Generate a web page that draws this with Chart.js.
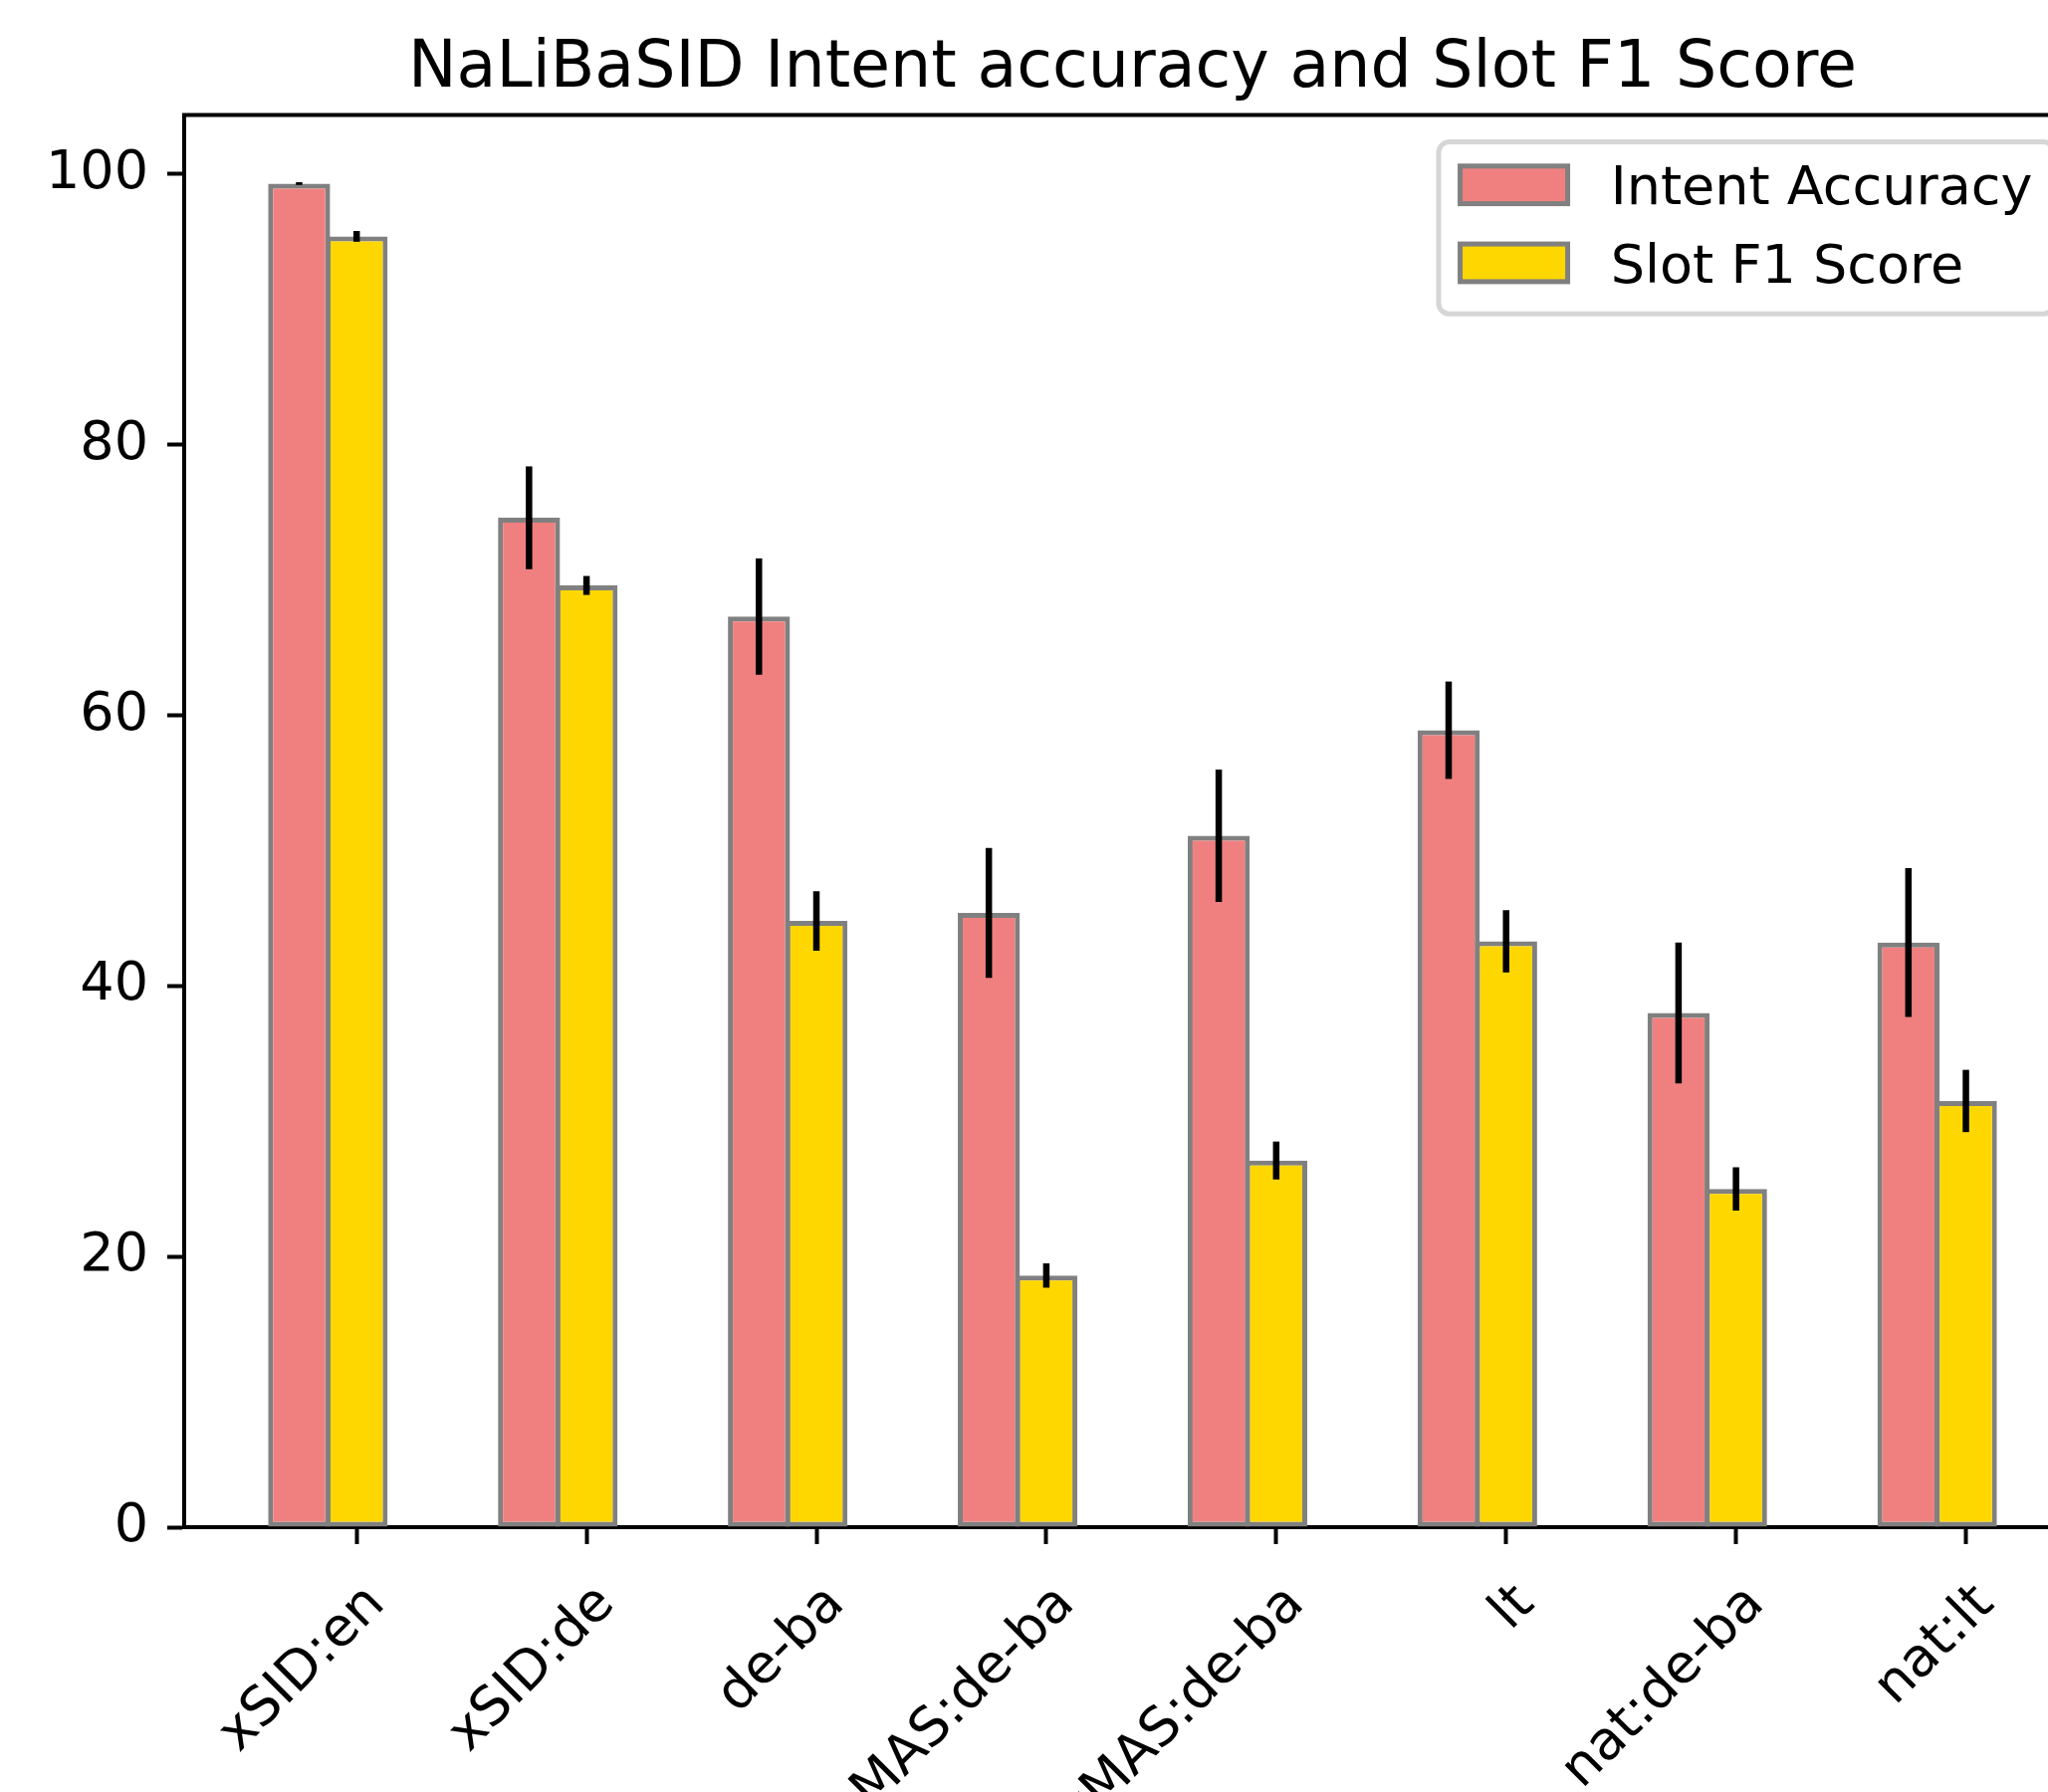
<!DOCTYPE html>
<html>
<head>
<meta charset="utf-8">
<script src="https://cdn.jsdelivr.net/npm/chart.js@4.4.0/dist/chart.umd.min.js"></script>
<style>
    html, body { margin: 0; padding: 0; overflow: hidden; background: #fff; }
    canvas { display: block; }
</style>
</head>
<body>
<canvas id="chartContainer" width="2100" height="1800"></canvas>
<script>
// Chart data
const categories = ['xSID:en', 'xSID:de', 'de-ba', 'MAS:de-ba', 'xMAS:de-ba', 'lt', 'nat:de-ba', 'nat:lt'];
const intentAccuracy = [99.3, 74.6, 67.3, 45.4, 51.1, 58.9, 38.0, 43.2];
const intentError = [0.1, 3.8, 4.3, 4.8, 4.9, 3.6, 5.2, 5.5];
const slotF1 = [95.4, 69.6, 44.8, 18.6, 27.1, 43.3, 25.0, 31.5];
const slotError = [0.4, 0.7, 2.2, 0.9, 1.4, 2.3, 1.6, 2.3];
const yTicks = [0, 20, 40, 60, 80, 100];

const FONT = 'DejaVu Sans';
const EDGE = 5;
const SPINE = 4;

document.addEventListener('DOMContentLoaded', function () {
    const ctx = document.getElementById('chartContainer').getContext('2d');

    // error bars, drawn over the bars (no caps, like the original)
    const errorBars = {
        id: 'errorBars',
        afterDatasetsDraw(chart) {
            const c = chart.ctx;
            const y = chart.scales.y;
            c.save();
            c.strokeStyle = '#000';
            c.lineWidth = 6.5;
            chart.data.datasets.forEach((ds, di) => {
                chart.getDatasetMeta(di).data.forEach((bar, i) => {
                    const v = ds.data[i].y, e = ds.errors[i];
                    c.beginPath();
                    c.moveTo(bar.x, y.getPixelForValue(v - e));
                    c.lineTo(bar.x, y.getPixelForValue(v + e));
                    c.stroke();
                });
            });
            c.restore();
        }
    };

    // top/right spines, title and the framed legend in the upper right
    const decorations = {
        id: 'decorations',
        afterDraw(chart) {
            const c = chart.ctx;
            const a = chart.chartArea;
            c.save();
            c.strokeStyle = '#000';
            c.lineWidth = SPINE;
            c.beginPath();
            c.moveTo(a.left - SPINE / 2, a.top);
            c.lineTo(a.right, a.top);
            c.lineTo(a.right, a.bottom);
            c.stroke();

            c.fillStyle = '#000';
            c.font = '65px "' + FONT + '"';
            c.textAlign = 'center';
            c.textBaseline = 'alphabetic';
            c.fillText('NaLiBaSID Intent accuracy and Slot F1 Score', (a.left + a.right) / 2, a.top - 28.5);

            const F = 54;
            c.font = F + 'px "' + FONT + '"';
            const labels = chart.data.datasets.map(d => d.label);
            const textW = Math.max(...labels.map(t => c.measureText(t).width));
            const w = 0.4 * F + 2 * F + 0.8 * F + textW + 0.4 * F;
            const h = 3.2 * F;
            const right = a.right - 0.5 * F;
            const top = a.top + 0.5 * F;
            const left = right - w;
            c.beginPath();
            c.roundRect(left, top, w, h, 0.2 * F);
            c.fillStyle = 'rgba(255,255,255,0.8)';
            c.fill();
            c.strokeStyle = 'rgba(204,204,204,0.8)';
            c.lineWidth = EDGE;
            c.stroke();
            chart.data.datasets.forEach((ds, i) => {
                const cy = top + 0.8 * F + i * 1.45 * F;
                const hx = left + 0.4 * F;
                c.fillStyle = ds.backgroundColor;
                c.fillRect(hx, cy - 0.35 * F, 2 * F, 0.7 * F);
                c.strokeStyle = ds.borderColor;
                c.lineWidth = EDGE;
                c.strokeRect(hx, cy - 0.35 * F, 2 * F, 0.7 * F);
                c.fillStyle = '#000';
                c.textAlign = 'left';
                c.textBaseline = 'alphabetic';
                c.fillText(ds.label, hx + 2.8 * F, cy + 0.365 * F);
            });
            c.restore();
        }
    };

    new Chart(ctx, {
        type: 'bar',
        data: {
            datasets: [{
                label: 'Intent Accuracy',
                data: intentAccuracy.map((v, i) => ({ x: i - 0.25, y: v })),
                errors: intentError,
                backgroundColor: '#F08080',
                borderColor: '#808080',
                borderWidth: EDGE,
                borderSkipped: false
            }, {
                label: 'Slot F1 Score',
                data: slotF1.map((v, i) => ({ x: i, y: v })),
                errors: slotError,
                backgroundColor: '#FFD700',
                borderColor: '#808080',
                borderWidth: EDGE,
                borderSkipped: false
            }]
        },
        options: {
            responsive: false,
            animation: false,
            grouped: false,
            categoryPercentage: 1,
            barPercentage: 1.08,
            layout: { padding: { left: 0, right: 10, top: 115.5, bottom: 0 } },
            plugins: {
                legend: { display: false },
                title: { display: false },
                tooltip: { enabled: false }
            },
            scales: {
                x: {
                    type: 'linear',
                    offset: false,
                    min: -0.75,
                    max: categories.length - 0.5,
                    afterBuildTicks: s => { s.ticks = categories.map((_, i) => ({ value: i })); },
                    afterFit: s => { s.height = 1800 - 1534; },
                    ticks: {
                        autoSkip: false,
                        maxRotation: 45,
                        minRotation: 45,
                        padding: 29,
                        labelOffset: 20,
                        color: '#000',
                        font: { family: FONT, size: 54 },
                        callback: v => categories[v]
                    },
                    grid: { offset: false, drawOnChartArea: false, drawTicks: true, tickLength: 17, tickWidth: SPINE, tickColor: '#000' },
                    border: { display: true, color: '#000', width: SPINE }
                },
                y: {
                    min: 0,
                    max: Math.max(...intentAccuracy.map((v, i) => v + intentError[i])) * 1.05,
                    afterBuildTicks: s => { s.ticks = yTicks.map(v => ({ value: v })); },
                    afterFit: s => { s.width = 185; },
                    ticks: {
                        padding: 19,
                        color: '#000',
                        font: { family: FONT, size: 54 }
                    },
                    grid: { drawOnChartArea: false, drawTicks: true, tickLength: 17, tickWidth: SPINE, tickColor: '#000' },
                    border: { display: true, color: '#000', width: SPINE }
                }
            }
        },
        plugins: [errorBars, decorations]
    });
});
</script>
</body>
</html>
